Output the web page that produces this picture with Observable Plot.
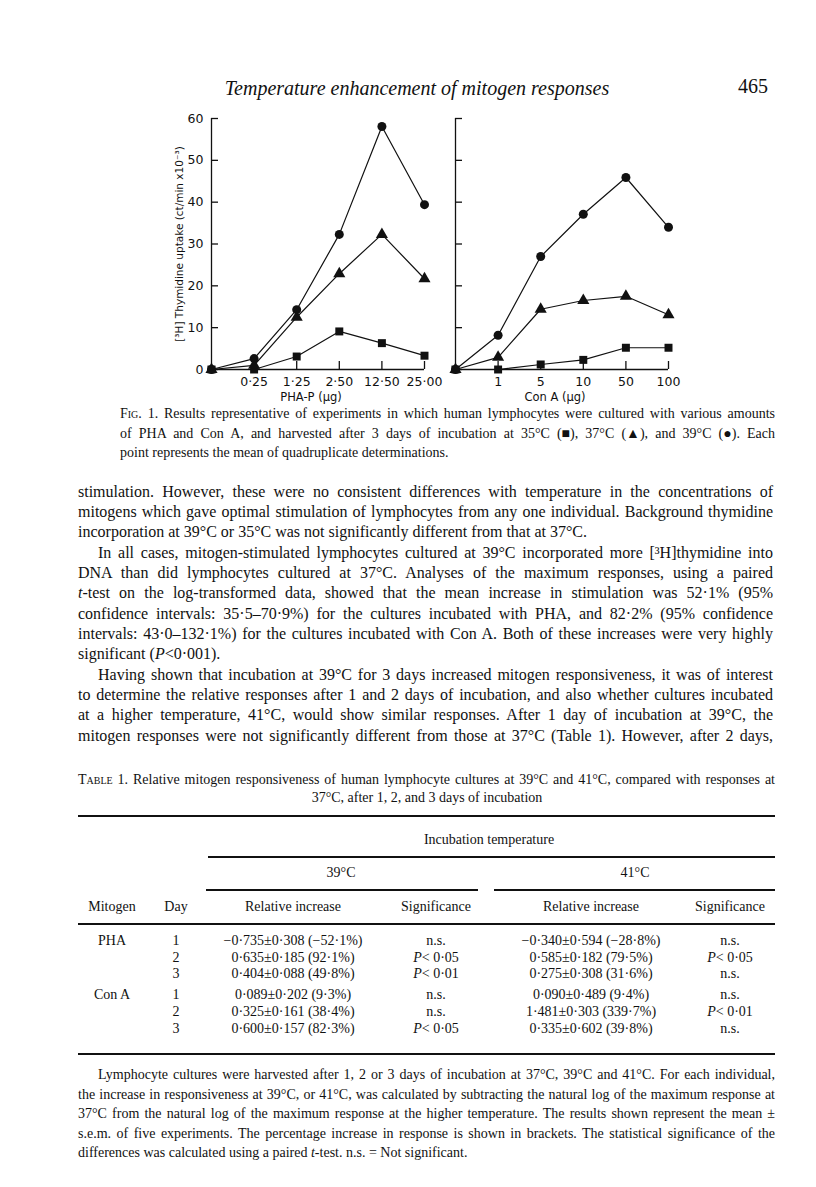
<!DOCTYPE html>
<html><head><meta charset="utf-8">
<script src="https://cdn.jsdelivr.net/npm/d3@7"></script>
<script src="https://cdn.jsdelivr.net/npm/@observablehq/plot@0.6"></script>
<style>
html,body{margin:0;padding:0;background:#fff;}
#page{position:relative;width:816px;height:1187px;overflow:hidden;background:#fff;color:#111;font-family:"Liberation Serif","Times New Roman",serif;}
.ln{position:absolute;white-space:nowrap;}
.sc{font-variant:small-caps;}
.rule{position:absolute;background:#111;}
.chart{position:absolute;}
</style></head>
<body><div id="page"></div>
<script>
// ---- chart data ----
const temps = ["35°C", "37°C", "39°C"];
const phaLabels = ["0", "0·25", "1·25", "2·50", "12·50", "25·00"];
const phaT35 = [0, 0, 3.1, 9.1, 6.3, 3.3];
const phaT37 = [0, 1.0, 12.5, 22.9, 32.3, 21.7];
const phaT39 = [0, 2.6, 14.3, 32.3, 58.1, 39.4];
const conLabels = ["0", "1", "5", "10", "50", "100"];
const conT35 = [0, 0, 1.2, 2.3, 5.2, 5.2];
const conT37 = [0, 2.9, 14.4, 16.5, 17.5, 13.1];
const conT39 = [0, 8.2, 27.0, 37.1, 45.9, 34.0];
const yTicks = [0, 10, 20, 30, 40, 50, 60];
const yLabel = "[³H] Thymidine uptake (ct/min x10⁻³)";

const page = document.getElementById("page");

function rows(labels, s35, s37, s39) {
  const out = [];
  [s35, s37, s39].forEach((s, k) => s.forEach((v, i) => out.push({i, v, temp: temps[k], label: labels[i]})));
  return out;
}

function panel(labels, s35, s37, s39, title, showY, left) {
  const data = rows(labels, s35, s37, s39);
  const marks = [
    Plot.ruleX([0], {y1: 0, y2: 60, stroke: "#111", strokeWidth: 1.3}),
    Plot.ruleY([0], {x1: 0, x2: 5, stroke: "#111", strokeWidth: 1.3}),
    Plot.axisY({ticks: yTicks, tickSize: -7, tickPadding: 15, strokeWidth: 1.3,
      tickFormat: showY ? (d => String(d)) : (() => ""),
      label: showY ? yLabel : null, labelAnchor: "center", labelOffset: 36, labelArrow: "none",
      fontSize: 12.5}),
    Plot.axisX({ticks: [1, 2, 3, 4, 5], tickSize: -8, tickPadding: 16, strokeWidth: 1.3,
      tickFormat: i => labels[i], label: null, fontSize: 12.5}),
    Plot.line(data, {x: "i", y: "v", z: "temp", stroke: "#111", strokeWidth: 1.2}),
    Plot.dot(data, {x: "i", y: "v", symbol: "temp", fill: "#111", r: 4.5}),
    Plot.text([title], {frameAnchor: "bottom", dy: 31, dx: -7, fontSize: 11.5})
  ];
  const svg = Plot.plot({
    width: 300, height: 330,
    marginLeft: 61, marginRight: 26, marginTop: 18, marginBottom: 61,
    style: {fontFamily: "'DejaVu Sans', sans-serif", color: "#111", background: "transparent", overflow: "visible"},
    x: {domain: [0, 5], axis: null},
    y: {domain: [0, 60], axis: null},
    symbol: {domain: temps, range: ["square", "triangle", "circle"]},
    marks
  });
  svg.querySelectorAll("text").forEach(t => {
    if (t.textContent === yLabel) t.setAttribute("font-size", "10.5");
  });
  const d = document.createElement("div");
  d.className = "chart";
  d.style.left = left + "px";
  d.style.top = "100px";
  d.appendChild(svg);
  page.appendChild(d);
}
panel(phaLabels, phaT35, phaT37, phaT39, "PHA-P (μg)", true, 150);
panel(conLabels, conT35, conT37, conT39, "Con A (μg)", false, 394);

// ---- page text ----
function line(html, o) {
  const size = o.size || 16, L = o.lh || Math.round(size * 1.25);
  const d = document.createElement("div");
  d.className = "ln";
  d.style.fontSize = size + "px";
  d.style.lineHeight = L + "px";
  d.style.top = (o.y - L / 2) + "px";
  if (o.italic) d.style.fontStyle = "italic";
  const s = document.createElement("span");
  s.innerHTML = html;
  d.appendChild(s);
  page.appendChild(d);
  const w = s.getBoundingClientRect().width;
  if (o.center !== undefined) {
    d.style.left = (o.center - w / 2) + "px";
  } else {
    d.style.left = o.x + "px";
    if (o.fit) {
      const n = (s.textContent.match(/ /g) || []).length;
      if (n > 0) s.style.wordSpacing = ((o.x2 - o.x - w) / n) + "px";
    }
  }
  return d;
}
function rule(x1, x2, y, h) {
  const r = document.createElement("div");
  r.className = "rule";
  r.style.left = x1 + "px"; r.style.width = (x2 - x1) + "px";
  r.style.top = (y - h / 2) + "px"; r.style.height = h + "px";
  page.appendChild(r);
}

line("Temperature enhancement of mitogen responses", {center: 417, y: 88, size: 20, italic: true});
line("465", {x: 738, y: 86, size: 20});

const cap = [
  ['<span class="sc">Fig.</span> 1. Results representative of experiments in which human lymphocytes were cultured with various amounts', true],
  ['of PHA and Con A, and harvested after 3 days of incubation at 35°C (■), 37°C (▲), and 39°C (●). Each', true],
  ['point represents the mean of quadruplicate determinations.', false]
];
cap.forEach((c, k) => line(c[0], {x: 120, x2: 775, y: 414 + k * 19.5, size: 14, fit: c[1]}));

const body = [
  ['stimulation. However, these were no consistent differences with temperature in the concentrations of', true, 0],
  ['mitogens which gave optimal stimulation of lymphocytes from any one individual. Background thymidine', true, 0],
  ['incorporation at 39°C or 35°C was not significantly different from that at 37°C.', false, 0],
  ['In all cases, mitogen-stimulated lymphocytes cultured at 39°C incorporated more [³H]thymidine into', true, 20],
  ['DNA than did lymphocytes cultured at 37°C. Analyses of the maximum responses, using a paired', true, 0],
  ['<i>t</i>-test on the log-transformed data, showed that the mean increase in stimulation was 52·1% (95%', true, 0],
  ['confidence intervals: 35·5–70·9%) for the cultures incubated with PHA, and 82·2% (95% confidence', true, 0],
  ['intervals: 43·0–132·1%) for the cultures incubated with Con A. Both of these increases were very highly', true, 0],
  ['significant (<i>P</i>&lt;0·001).', false, 0],
  ['Having shown that incubation at 39°C for 3 days increased mitogen responsiveness, it was of interest', true, 20],
  ['to determine the relative responses after 1 and 2 days of incubation, and also whether cultures incubated', true, 0],
  ['at a higher temperature, 41°C, would show similar responses. After 1 day of incubation at 39°C, the', true, 0],
  ['mitogen responses were not significantly different from those at 37°C (Table 1). However, after 2 days,', true, 0]
];
body.forEach((b, k) => line(b[0], {x: 78 + b[2], x2: 773, y: 491.5 + k * 20.35, size: 16, lh: 20, fit: b[1]}));

line('<span class="sc">Table</span> 1. Relative mitogen responsiveness of human lymphocyte cultures at 39°C and 41°C, compared with responses at', {x: 78, x2: 775, y: 780, size: 14, fit: true});
line('37°C, after 1, 2, and 3 days of incubation', {center: 427, y: 798, size: 14});

rule(78, 775, 816, 2.2);
line('Incubation temperature', {center: 489, y: 840, size: 14});
rule(208, 775, 857, 1.2);
line('39°C', {center: 341, y: 873, size: 14});
line('41°C', {center: 635, y: 873, size: 14});
rule(206, 478, 890, 1.2);
rule(494, 775, 890, 1.2);

const colX = [112, 176, 293, 436, 591, 730];
const heads = ["Mitogen", "Day", "Relative increase", "Significance", "Relative increase", "Significance"];
heads.forEach((h, k) => line(h, {center: colX[k], y: 907, size: 14}));
rule(78, 775, 924, 1.4);

const mitogens = ["PHA", "", "", "Con A", "", ""];
const days = ["1", "2", "3", "1", "2", "3"];
const rel39 = ["−0·735±0·308 (−52·1%)", "0·635±0·185 (92·1%)", "0·404±0·088 (49·8%)", "0·089±0·202 (9·3%)", "0·325±0·161 (38·4%)", "0·600±0·157 (82·3%)"];
const sig39 = ["n.s.", "<i>P</i>&lt; 0·05", "<i>P</i>&lt; 0·01", "n.s.", "n.s.", "<i>P</i>&lt; 0·05"];
const rel41 = ["−0·340±0·594 (−28·8%)", "0·585±0·182 (79·5%)", "0·275±0·308 (31·6%)", "0·090±0·489 (9·4%)", "1·481±0·303 (339·7%)", "0·335±0·602 (39·8%)"];
const sig41 = ["n.s.", "<i>P</i>&lt; 0·05", "n.s.", "n.s.", "<i>P</i>&lt; 0·01", "n.s."];
const rowY = [941, 958, 974, 995, 1012, 1029];
rowY.forEach((y, r) => {
  const cells = [mitogens[r], days[r], rel39[r], sig39[r], rel41[r], sig41[r]];
  cells.forEach((c, k) => { if (c) line(c, {center: colX[k], y, size: 14}); });
});
rule(78, 775, 1054, 2.2);

const foot = [
  ['Lymphocyte cultures were harvested after 1, 2 or 3 days of incubation at 37°C, 39°C and 41°C. For each individual,', true, 20],
  ['the increase in responsiveness at 39°C, or 41°C, was calculated by subtracting the natural log of the maximum response at', true, 0],
  ['37°C from the natural log of the maximum response at the higher temperature. The results shown represent the mean ±', true, 0],
  ['s.e.m. of five experiments. The percentage increase in response is shown in brackets. The statistical significance of the', true, 0],
  ['differences was calculated using a paired <i>t</i>-test. n.s. = Not significant.', false, 0]
];
foot.forEach((f, k) => line(f[0], {x: 78 + f[2], x2: 775, y: 1075 + k * 19.5, size: 14, fit: f[1]}));
</script></body></html>
